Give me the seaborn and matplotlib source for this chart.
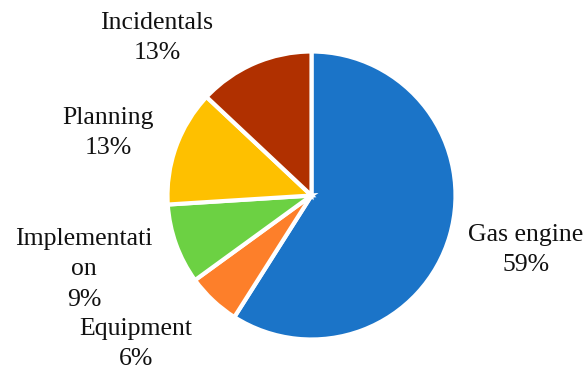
import matplotlib
matplotlib.use("Agg")
import matplotlib.pyplot as plt
import seaborn as sns

# Cost breakdown shares (percent)
categories = ["Gas engine", "Equipment", "Implementation", "Planning", "Incidentals"]
shares = [59, 6, 9, 13, 13]
label_texts = ["Gas engine", "Equipment", "Implementati\non", "Planning", "Incidentals"]
colors = ["#1b74c8", "#fd7f2a", "#6cd143", "#fec000", "#b03000"]

sns.set_theme(style="white")
plt.rcParams["font.family"] = ["Liberation Serif", "DejaVu Serif"]

W, H = 587, 369
fig = plt.figure(figsize=(W / 100, H / 100), dpi=100)
ax = fig.add_axes([0, 0, 1, 1])

cx, cy, r = 311.5, H - 195.5, 144
ax.pie(shares, colors=sns.color_palette(colors), startangle=90, counterclock=False,
       center=(cx, cy), radius=r, frame=True,
       wedgeprops=dict(edgecolor="white", linewidth=3))
ax.set_xlim(0, W)
ax.set_ylim(0, H)
ax.set_aspect("equal")
ax.axis("off")

# label anchor points (pixel space, top-left origin)
label_pos = [(526, 250), (136, 344), (84, 269), (108, 133), (157, 38)]
for name, val, (lx, ly) in zip(label_texts, shares, label_pos):
    ax.text(lx, H - ly, f"{name}\n{val}%", ha="center", va="center",
            fontsize=18.5, color="#111111", linespacing=1.5)

fig.savefig("out.png", dpi=100, facecolor="white")
